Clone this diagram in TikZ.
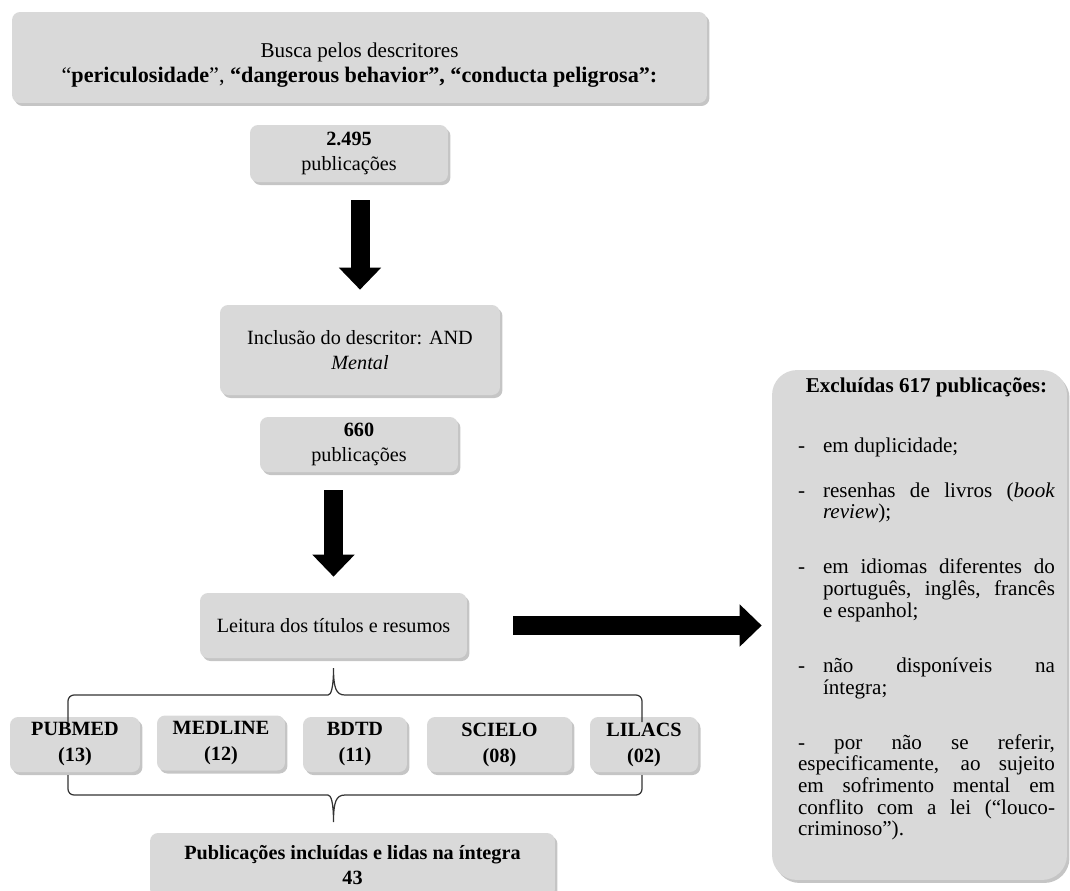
\documentclass[tikz,border=0pt]{standalone}
\usepackage{fontspec}
\setmainfont{Liberation Serif}
\usetikzlibrary{arrows.meta, shadows, calc}

\definecolor{cinzacaixa}{RGB}{217,217,217}

\tikzset{
  caixa/.style={rounded corners=0.16cm, fill=cinzacaixa, align=center, inner sep=0pt,
    font=\fontsize{11.5}{14.2}\selectfont,
    drop shadow={shadow xshift=0.05cm, shadow yshift=-0.06cm, fill=black!45, opacity=0.5}},
  base/.style={caixa, font=\fontsize{11.5}{14.8}\selectfont\bfseries, minimum height=1.1cm},
  seta/.style={line width=0.38cm, -{Triangle[length=0.44cm, width=0.82cm]}},
  chave/.style={draw=black!80, line width=0.7pt}
}

\begin{document}
\begin{tikzpicture}[x=0.02cm, y=-0.02cm]
  \useasboundingbox (0,0) rectangle (1070,890);
  % Caixas da coluna central
  \node[caixa, minimum width=13.9cm, minimum height=1.82cm] (busca) at (359.5,57.5) {};
  \node[align=center, inner sep=0pt, font=\fontsize{12}{14.4}\selectfont] (buscatexto) at (359.5,65)
    {Busca pelos descritores\\{\fontsize{12.6}{14.4}\selectfont“\textbf{periculosidade}”, \textbf{“dangerous behavior”, “conducta peligrosa”:}}};
  \node[caixa, minimum width=3.96cm, minimum height=1.14cm] (dois) at (349,153.5) {\textbf{2.495}\\publicações};
  \node[caixa, minimum width=5.6cm, minimum height=1.8cm] (incl) at (360,350) {Inclusão do descritor: AND\\\textit{Mental}};
  \node[caixa, minimum width=3.96cm, minimum height=1.1cm] (seis) at (359,444.5) {\textbf{660}\\publicações};
  \node[caixa, minimum width=5.34cm, minimum height=1.3cm] (leit) at (333.5,625.5) {Leitura dos títulos e resumos};
  % Bases de dados
  \node[base, minimum width=2.6cm] (pubmed) at (75,744.5) {PUBMED\\(13)};
  \node[base, minimum width=2.56cm] (medline) at (221,743) {MEDLINE\\(12)};
  \node[base, minimum width=2.08cm] (bdtd) at (355,744.5) {BDTD\\(11)};
  \node[base, minimum width=2.9cm] (scielo) at (499.5,744.5) {SCIELO\\(08)};
  \node[base, minimum width=2.16cm] (lilacs) at (644,744.5) {LILACS\\(02)};
  \node[caixa, font=\fontsize{11.5}{14.2}\selectfont\bfseries, minimum width=8.1cm, minimum height=1.28cm] (final) at (352.5,865)
    {Publicações incluídas e lidas na íntegra\\43};
  % Caixa das exclusões
  \node[caixa, rounded corners=0.5cm, minimum width=5.9cm, minimum height=10.2cm] (excl) at (919.5,625) {};
  \node[anchor=north, text width=5.14cm, align=justify, inner sep=0pt,
        font=\fontsize{12}{12.35}\selectfont] (excltxt) at (926.5,377) {%
    {\centering\textbf{Excluídas 617 publicações:}\par}
    \vspace{21.8pt}
    \hangindent=0.5cm\hangafter=1\noindent\makebox[0.5cm][l]{-}em duplicidade;\par
    \vspace{13.3pt}
    \hangindent=0.5cm\hangafter=1\noindent\makebox[0.5cm][l]{-}resenhas de livros (\textit{book}\linebreak \textit{review});\par
    \vspace{19pt}
    \hangindent=0.5cm\hangafter=1\noindent\makebox[0.5cm][l]{-}em idiomas diferentes do\linebreak português, inglês, francês\linebreak e espanhol;\par
    \vspace{19pt}
    \hangindent=0.5cm\hangafter=1\noindent\makebox[0.5cm][l]{-}não disponíveis na\linebreak íntegra;\par
    \vspace{19pt}
    \noindent- por não se referir,\linebreak especificamente, ao sujeito\linebreak em sofrimento mental em\linebreak conflito com a lei (“louco-\linebreak criminoso”).\par};
  % Setas
  \draw[seta, shorten <=0.36cm, shorten >=0.3cm] (incl.north |- dois.south) -- (incl.north);
  \draw[seta, shorten <=0.36cm, shorten >=0.32cm] (leit.north |- seis.south) -- (leit.north);
  \draw[seta, shorten <=0.92cm, shorten >=0.2cm] (leit.east) -- (leit.east -| excl.west);
  % Chaves
  \draw[chave] (68,722) [rounded corners=0.12cm] -- (68,695) -- (322,695) [sharp corners]
    .. controls (331,695) and (333.5,688) .. (333.5,668)
    .. controls (333.5,688) and (336,695) .. (345,695) [rounded corners=0.12cm] -- (642,695) -- (642,722);
  \draw[chave] (68,775) [rounded corners=0.12cm] -- (68,795) -- (322,795) [sharp corners]
    .. controls (331,795) and (333.5,802) .. (333.5,822)
    .. controls (333.5,802) and (336,795) .. (345,795) [rounded corners=0.12cm] -- (642,795) -- (642,775);
\end{tikzpicture}
\end{document}
